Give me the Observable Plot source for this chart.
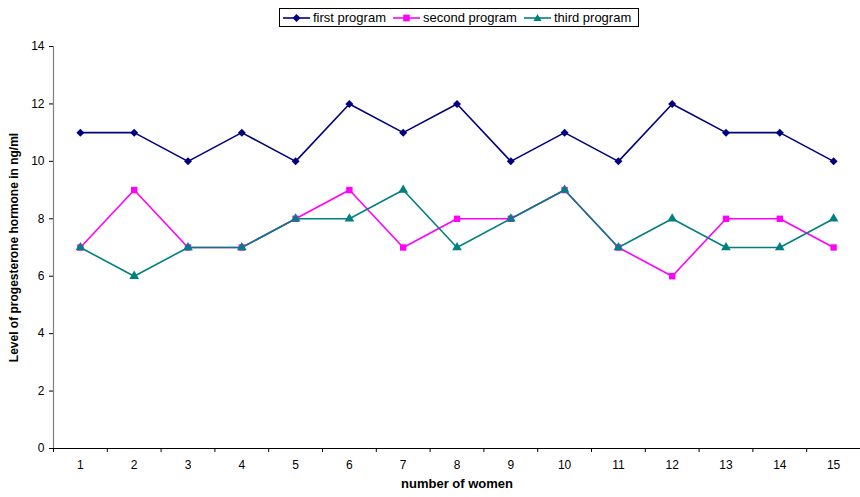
<!DOCTYPE html>
<html>
<head>
<meta charset="utf-8">
<script src="https://cdn.jsdelivr.net/npm/d3@7"></script>
<script src="https://cdn.jsdelivr.net/npm/@observablehq/plot@0.6"></script>
<style>
  html, body { margin: 0; padding: 0; background: white; }
  #wrap { position: relative; width: 860px; height: 497px; font-family: "Liberation Sans", Arial, sans-serif; }
  #legend { position: absolute; left: 279px; top: 8px; height: 17px; border: 1px solid #000; background: white;
            display: flex; align-items: center; padding: 0 3px 0 3px; font-size: 13px; white-space: nowrap; }
  #legend .item { display: flex; align-items: center; margin-right: 7px; }
  #legend .item:last-child { margin-right: 4px; }
  #legend svg { margin-right: 3px; }
</style>
</head>
<body>
<div id="wrap"><div id="legend"></div></div>
<script>
const women = [1, 2, 3, 4, 5, 6, 7, 8, 9, 10, 11, 12, 13, 14, 15];
const firstProgram  = [11, 11, 10, 11, 10, 12, 11, 12, 10, 11, 10, 12, 11, 11, 10];
const secondProgram = [7, 9, 7, 7, 8, 9, 7, 8, 8, 9, 7, 6, 8, 8, 7];
const thirdProgram  = [7, 6, 7, 7, 8, 8, 9, 7, 8, 9, 7, 8, 7, 7, 8];
const seriesNames = ["first program", "second program", "third program"];
const seriesColors = ["#000080", "#FF00FF", "#008080"];
const seriesSymbols = ["diamond2", "square", "triangle"];
const yTicks = [0, 2, 4, 6, 8, 10, 12, 14];

const seriesValues = [firstProgram, secondProgram, thirdProgram];
const tables = seriesValues.map((vals, i) => women.map((w, j) => ({woman: w, value: vals[j], series: seriesNames[i]})));
const boundaries = [0.5].concat(women.map(w => w + 0.5));

const marks = [
  Plot.axisY({ticks: yTicks, tickSize: 4, tickPadding: 5, label: null, stroke: "#000", fontSize: 12}),
  Plot.axisX({ticks: boundaries, tickSize: 4, tickFormat: () => "", label: null, stroke: "#000"}),
  Plot.axisX({ticks: women, tickSize: 0, tickPadding: 12, label: null, fontSize: 12}),
  Plot.ruleX([0.5], {stroke: "#808080", strokeWidth: 1.2}),
  Plot.ruleY([0], {stroke: "#000", strokeWidth: 1.2}),
  Plot.text(["number of women"], {frameAnchor: "bottom", dy: 39, fontWeight: "bold", fontSize: 13}),
  Plot.text(["Level of progesterone hormone in ng/ml"], {frameAnchor: "left", textAnchor: "middle", dx: -39, rotate: -90, fontWeight: "bold", fontSize: 12})
];
tables.forEach((t, i) => {
  marks.push(Plot.line(t, {x: "woman", y: "value", stroke: seriesColors[i], strokeWidth: 1.6}));
});
tables.forEach((t, i) => {
  marks.push(Plot.dot(t, {x: "woman", y: "value", symbol: seriesSymbols[i], fill: seriesColors[i], stroke: "none", r: 3.6}));
});

const chart = Plot.plot({
  width: 860,
  height: 497,
  marginTop: 46,
  marginBottom: 49,
  marginLeft: 53,
  marginRight: 0,
  style: {fontFamily: "'Liberation Sans', Arial, sans-serif", fontSize: "12px", color: "#000", background: "white"},
  x: {domain: [0.5, 15.5]},
  y: {domain: [0, 14]},
  marks
});
const wrap = document.getElementById("wrap");
wrap.insertBefore(chart, wrap.firstChild);

// legend
const legend = document.getElementById("legend");
const symPaths = {
  "diamond2": "M0,-4L4,0L0,4L-4,0Z",
  "square": "M-3.3,-3.3H3.3V3.3H-3.3Z",
  "triangle": "M0,-4L4,3L-4,3Z"
};
seriesNames.forEach((name, i) => {
  const item = document.createElement("div");
  item.className = "item";
  item.innerHTML = `<svg width="27" height="12"><line x1="0" x2="27" y1="6" y2="6" stroke="${seriesColors[i]}" stroke-width="1.6"/><path transform="translate(13.5,6)" d="${symPaths[seriesSymbols[i]]}" fill="${seriesColors[i]}"/></svg><span>${name}</span>`;
  legend.appendChild(item);
});
</script>
</body>
</html>
